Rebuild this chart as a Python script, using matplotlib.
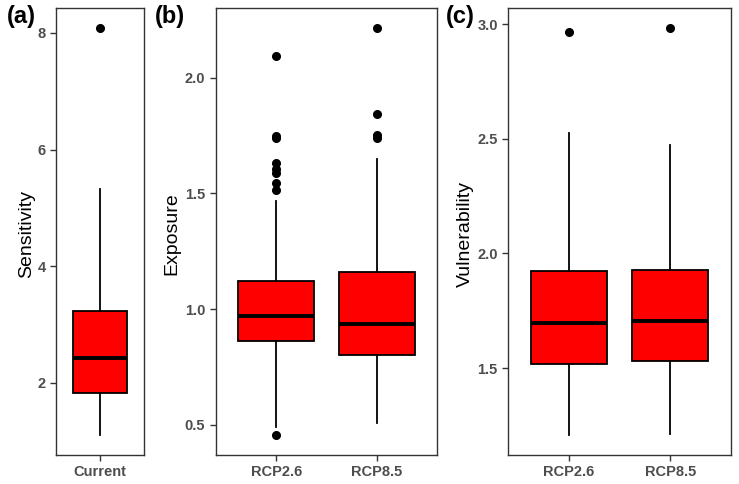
import matplotlib
matplotlib.use("Agg")
import matplotlib.pyplot as plt

plt.rcParams['font.family'] = ['Liberation Sans', 'DejaVu Sans']

# box statistics
sens_labels = ["Current"]
sens_q1 = [1.82]
sens_med = [2.42]
sens_q3 = [3.235]
sens_lo = [1.11]
sens_hi = [5.32]
sens_out = [[8.08]]

exp_labels = ["RCP2.6", "RCP8.5"]
exp_q1 = [0.863, 0.80]
exp_med = [0.971, 0.935]
exp_q3 = [1.119, 1.158]
exp_lo = [0.49, 0.507]
exp_hi = [1.467, 1.647]
exp_out = [[0.457, 1.514, 1.546, 1.586, 1.604, 1.629, 1.74, 1.747, 2.094],
           [1.737, 1.752, 1.841, 2.213]]

vul_labels = ["RCP2.6", "RCP8.5"]
vul_q1 = [1.517, 1.529]
vul_med = [1.695, 1.705]
vul_q3 = [1.924, 1.927]
vul_lo = [1.209, 1.213]
vul_hi = [2.526, 2.475]
vul_out = [[2.965], [2.983]]

sens_ticks = [2, 4, 6, 8]
exp_ticks = [0.5, 1.0, 1.5, 2.0]
vul_ticks = [1.5, 2.0, 2.5, 3.0]

W, H = 739, 484
fig = plt.figure(figsize=(W / 100, H / 100), dpi=100)
bottom, height = 0.0599, 0.9236
ax_a = fig.add_axes([0.0758, bottom, 0.119, height])
ax_b = fig.add_axes([0.2919, bottom, 0.2999, height])
ax_c = fig.add_axes([0.6878, bottom, 0.3014, height])


def draw_panel(ax, labels, q1, med, q3, lo, hi, out, ticks, fmt, ylabel,
               tag, tag_x, ylab_x):
    stats = []
    for i in range(len(labels)):
        stats.append(dict(q1=q1[i], med=med[i], q3=q3[i], whislo=lo[i],
                          whishi=hi[i], fliers=out[i], label=labels[i]))
    pos = list(range(1, len(labels) + 1))
    ax.bxp(stats, positions=pos, widths=0.75, showcaps=False, patch_artist=True,
           boxprops=dict(facecolor="#FF0000", edgecolor="black", linewidth=1.3),
           medianprops=dict(color="black", linewidth=2.8),
           whiskerprops=dict(color="black", linewidth=1.3),
           flierprops=dict(marker="o", markerfacecolor="black",
                           markeredgecolor="black", markersize=5.5))
    allv = lo + hi + [v for o in out for v in o]
    vmin, vmax = min(allv), max(allv)
    pad = 0.05 * (vmax - vmin)
    ax.set_ylim(vmin - pad, vmax + pad)
    ax.set_xlim(0.4, len(labels) + 0.6)
    ax.set_yticks(ticks)
    ax.set_yticklabels([fmt.format(t) for t in ticks])
    ax.set_xticks(pos)
    ax.set_xticklabels(labels)
    ax.tick_params(axis="both", colors="#333333", labelcolor="#4D4D4D",
                   length=4, width=1, labelsize=10.5)
    for t in ax.get_xticklabels() + ax.get_yticklabels():
        t.set_fontweight("bold")
    for s in ax.spines.values():
        s.set_color("#333333")
        s.set_linewidth(1)
    ax.set_ylabel(ylabel, fontsize=14, va="center")
    ax.yaxis.set_label_coords(ylab_x / W, 0.5 + 0.0, transform=fig.transFigure)
    ax.yaxis.label.set_y(1 - 234 / H)
    fig.text(tag_x / W, 1 - 17 / H, tag, ha="left", va="center",
             fontsize=17, fontweight="bold")
    ax.set_facecolor("white")


draw_panel(ax_a, sens_labels, sens_q1, sens_med, sens_q3, sens_lo, sens_hi,
           sens_out, sens_ticks, "{:.0f}", "Sensitivity", "(a)", 7, 26.5)
draw_panel(ax_b, exp_labels, exp_q1, exp_med, exp_q3, exp_lo, exp_hi,
           exp_out, exp_ticks, "{:.1f}", "Exposure", "(b)", 155, 171.5)
draw_panel(ax_c, vul_labels, vul_q1, vul_med, vul_q3, vul_lo, vul_hi,
           vul_out, vul_ticks, "{:.1f}", "Vulnerability", "(c)", 446, 465)

fig.savefig("out.png", dpi=100)
